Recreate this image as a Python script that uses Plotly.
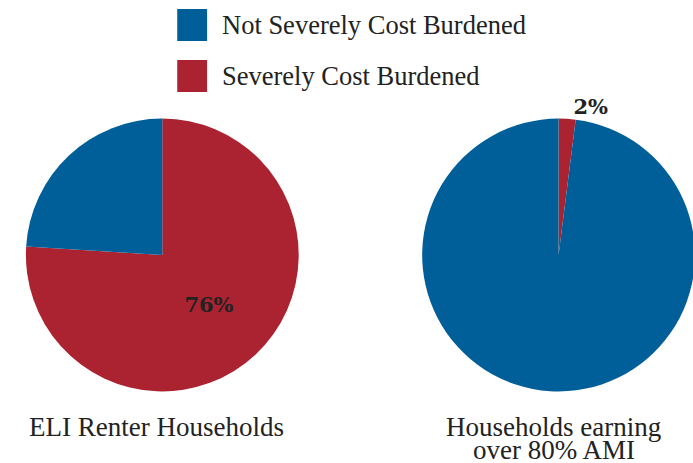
import plotly.graph_objects as go

categories = ["Severely Cost Burdened", "Not Severely Cost Burdened"]
legend_order = ["Not Severely Cost Burdened", "Severely Cost Burdened"]
group_lines = [["ELI Renter Households"], ["Households earning", "over 80% AMI"]]
eli_values = [76, 24]
high_values = [2, 98]

colors = {"Severely Cost Burdened": "#ab2331", "Not Severely Cost Burdened": "#005e98"}
pie_colors = [colors[c] for c in categories]

# canvas slightly wider than the 693px window so the right pie is clipped at the edge, like the reference
W, H = 700, 463

def px_x(v):
    return v / W

def px_y(v):
    return 1 - v / H

fig = go.Figure()
fig.add_trace(go.Pie(
    labels=categories, values=eli_values, sort=False, direction="clockwise", rotation=0,
    marker=dict(colors=pie_colors, line=dict(width=0)),
    texttemplate=["%{percent:.0%}", ""], textposition=["inside", "none"],
    textfont=dict(family="DejaVu Serif", size=21, color="#222222", weight="bold"),
    domain=dict(x=[px_x(26), px_x(300)], y=[px_y(392), px_y(118)]),
    showlegend=False, hoverinfo="label+percent",
))
fig.add_trace(go.Pie(
    labels=categories, values=high_values, sort=False, direction="clockwise", rotation=0,
    marker=dict(colors=pie_colors, line=dict(width=0)),
    texttemplate=["%{percent:.0%}", ""], textposition=["outside", "none"],
    textfont=dict(family="DejaVu Serif", size=21, color="#222222", weight="bold"),
    domain=dict(x=[px_x(424), px_x(698)], y=[px_y(392), px_y(118)]),
    showlegend=False, hoverinfo="label+percent",
))

shapes = []
annotations = []
for i, name in enumerate(legend_order):
    y0 = 9 + i * 51
    shapes.append(dict(type="rect", xref="paper", yref="paper",
                       x0=px_x(178), x1=px_x(208), y0=px_y(y0 + 32), y1=px_y(y0),
                       fillcolor=colors[name], line=dict(width=0)))
    annotations.append(dict(text=name, xref="paper", yref="paper", x=px_x(221), y=px_y(y0 + 16),
                            xanchor="left", yanchor="middle", showarrow=False,
                            font=dict(family="Liberation Serif", size=26.5, color="#222222")))

centers = [157, 556]
for lines, cx in zip(group_lines, centers):
    for j, line in enumerate(lines):
        annotations.append(dict(text=line, xref="paper", yref="paper", x=px_x(cx), y=px_y(427 + 23 * j),
                                xanchor="center", yanchor="middle", showarrow=False,
                                font=dict(family="Liberation Serif", size=27, color="#222222")))

fig.update_layout(
    width=W, height=H, margin=dict(l=0, r=0, t=0, b=0),
    paper_bgcolor="white", plot_bgcolor="white",
    shapes=shapes, annotations=annotations,
)
fig.write_html("out.html", config={"displayModeBar": False},
               post_script="document.body.style.margin='0';document.body.style.overflow='hidden';")
